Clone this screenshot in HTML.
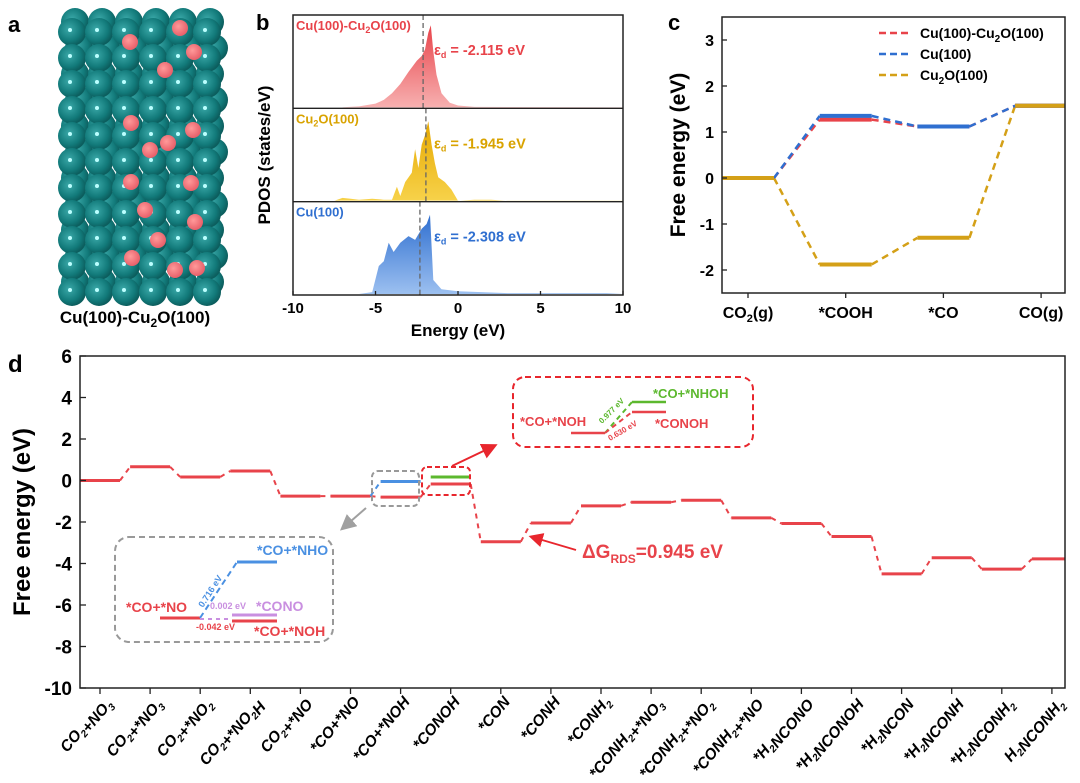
<!DOCTYPE html>
<html><head><meta charset="utf-8"><style>
body{margin:0;background:#fff;}
svg{display:block;font-family:"Liberation Sans",Arial,sans-serif;font-weight:bold;}
</style></head><body>
<svg id="fig" width="1080" height="783" viewBox="0 0 1080 783" xmlns="http://www.w3.org/2000/svg">
<defs>
<linearGradient id="gR" x1="0" y1="0" x2="0" y2="1"><stop offset="0" stop-color="#e8434a"/><stop offset="1" stop-color="#f7b0b0"/></linearGradient>
<linearGradient id="gY" x1="0" y1="0" x2="0" y2="1"><stop offset="0" stop-color="#e6a800"/><stop offset="1" stop-color="#f7d24a"/></linearGradient>
<linearGradient id="gB" x1="0" y1="0" x2="0" y2="1"><stop offset="0" stop-color="#2f6fd0"/><stop offset="1" stop-color="#9cc0f0"/></linearGradient>
<radialGradient id="atom" cx="0.4" cy="0.4" r="0.6"><stop offset="0" stop-color="#3aa8a8"/><stop offset="0.7" stop-color="#127a7a"/><stop offset="1" stop-color="#0c5e5e"/></radialGradient>
<radialGradient id="oat" cx="0.4" cy="0.4" r="0.6"><stop offset="0" stop-color="#ff9a9a"/><stop offset="1" stop-color="#e8606a"/></radialGradient>
<marker id="arR" markerWidth="8" markerHeight="8" refX="6" refY="4" orient="auto"><path d="M0,0 L8,4 L0,8 z" fill="#e8262d"/></marker>
<marker id="arG" markerWidth="8" markerHeight="8" refX="6" refY="4" orient="auto"><path d="M0,0 L8,4 L0,8 z" fill="#a0a0a0"/></marker>
</defs>

<text x="8" y="32" font-size="22">a</text>
<g id="atoms"></g>
<text x="135" y="323" font-size="17" text-anchor="middle">Cu(100)-Cu<tspan font-size="12" dy="4">2</tspan><tspan dy="-4">O(100)</tspan></text>

<text x="256" y="30" font-size="22">b</text>
<g id="pdos"></g>

<text x="668" y="30" font-size="22">c</text>
<g id="chc"></g>

<text x="8" y="372" font-size="24">d</text>
<g id="chd"></g>
</svg>
<script>
const NS="http://www.w3.org/2000/svg";
function mk(parent,tag,attrs,txt){const e=document.createElementNS(NS,tag);for(const k in attrs)e.setAttribute(k,attrs[k]);if(txt!==undefined)e.textContent=txt;parent.appendChild(e);return e;}

const pdosEnergyRed=[-7,-6,-5,-4.5,-4,-3.5,-3,-2.5,-2.2,-2,-1.8,-1.65,-1.5,-1.3,-1,-0.5,0,1,10];
const pdosValRed=[0,0.01,0.04,0.08,0.15,0.25,0.38,0.5,0.55,0.62,0.8,0.88,0.6,0.35,0.15,0.05,0.02,0.005,0];
const pdosEnergyYel=[-7.5,-7,-6.5,-6,-5.2,-4.5,-4,-3.7,-3.5,-3.2,-2.8,-2.6,-2.4,-2.2,-2,-1.8,-1.6,-1.4,-1.2,-0.8,-0.4,0,1,2,3,10];
const pdosValYel=[0,0.03,0.02,0.01,0.02,0.01,0.01,0.15,0.05,0.2,0.3,0.55,0.35,0.6,0.7,0.85,0.6,0.4,0.25,0.2,0.12,0,0.01,0.01,0,0];
const pdosEnergyBlue=[-6,-5.2,-4.8,-4.5,-4.2,-3.9,-3.5,-3,-2.6,-2.2,-1.9,-1.7,-1.5,-1,0,3,9,10];
const pdosValBlue=[0,0.02,0.3,0.35,0.55,0.45,0.55,0.62,0.58,0.7,0.75,0.85,0.15,0.05,0.03,0.01,0.01,0];
const dCenters=[-2.115,-1.945,-2.308];
const pdosTicks=[-10,-5,0,5,10];
(function(){
 const g=document.getElementById('pdos');
 const L=293,R=623,T=15,B=295,ph=(B-T)/3;
 const xs=e=>L+(e+10)/20*(R-L);
 const sets=[[pdosEnergyRed,pdosValRed,'url(#gR)','#e8434a','Cu(100)-Cu<tspan font-size="9" dy="3">2</tspan><tspan dy="-3">O(100)</tspan>','-2.115 eV'],
  [pdosEnergyYel,pdosValYel,'url(#gY)','#d9a300','Cu<tspan font-size="9" dy="3">2</tspan><tspan dy="-3">O(100)</tspan>','-1.945 eV'],
  [pdosEnergyBlue,pdosValBlue,'url(#gB)','#2f6fd0','Cu(100)','-2.308 eV']];
 sets.forEach((s,i)=>{
  const base=T+ph*(i+1)-1;
  let d='M'+xs(s[0][0])+','+base;
  s[0].forEach((e,j)=>{d+=' L'+xs(e).toFixed(1)+','+(base-s[1][j]*ph).toFixed(1);});
  d+=' L'+xs(s[0][s[0].length-1])+','+base+' Z';
  const p=mk(g,'path',{d:d,fill:s[2]});
  
  
  const x0=xs(dCenters[i]);
  const l=mk(g,'line',{x1:x0,x2:x0,y1:T+ph*i,y2:T+ph*(i+1),stroke:'#666','stroke-width':1.3,'stroke-dasharray':'5,3'});
  
  
  const lab=mk(g,'text',{x:296,y:T+ph*i+15,'font-size':13,fill:s[3]});
  lab.innerHTML=s[4];
  
  
  const ed=mk(g,'text',{x:434,y:T+ph*i+40,'font-size':14.5,fill:s[3]});
  ed.innerHTML='ε<tspan font-size="9" dy="3">d</tspan><tspan dy="-3"> = '+s[5]+'</tspan>';
  
  
  if(i>0){const dv=mk(g,'line',{x1:L,x2:R,y1:T+ph*i,y2:T+ph*i,stroke:'#222','stroke-width':1.3});
   
   }
 });
 const fr=mk(g,'rect',{x:L,y:T,width:R-L,height:B-T,fill:'none',stroke:'#222','stroke-width':1.5});
 
 
 pdosTicks.forEach(t=>{
  const tk=mk(g,'line',{x1:xs(t),x2:xs(t),y1:B,y2:B-4,stroke:'#222','stroke-width':1.3});
  
  
  const tl=mk(g,'text',{x:xs(t),y:B+18,'font-size':15,'text-anchor':'middle'},String(t));
  
  
 });
 const xt=mk(g,'text',{x:458,y:336,'font-size':17,'text-anchor':'middle'},'Energy (eV)');
 
 
 const yt=mk(g,'text',{x:0,y:0,'font-size':17,'text-anchor':'middle',transform:'translate(270,155) rotate(-90)'},'PDOS (states/eV)');
 
 
})();

const cCategories=['CO<tspan font-size="11" dy="4">2</tspan><tspan dy="-4">(g)</tspan>','*COOH','*CO','CO(g)'];
const cSeriesNames=['Cu(100)-Cu<tspan font-size="10" dy="4">2</tspan><tspan dy="-4">O(100)</tspan>','Cu(100)','Cu<tspan font-size="10" dy="4">2</tspan><tspan dy="-4">O(100)</tspan>'];
const cRed=[0,1.27,1.12,1.57];
const cBlue=[0,1.35,1.12,1.57];
const cYellow=[0,-1.88,-1.3,1.57];
const cTicks=[-2,-1,0,1,2,3];
(function(){
 const g=document.getElementById('chc');
 const L=722,R=1065,T=17,B=293;
 const ys=v=>178-v*46;
 const xs=i=>748+i*97.7;
 const hw=26;
 const series=[[cYellow,'#d4a017'],[cRed,'#e8434a'],[cBlue,'#2f6fd0']];
 series.forEach((s,si)=>{
  const v=s[0];
  for(let i=0;i<v.length;i++){
   let x1=xs(i)-hw,x2=xs(i)+hw;
   if(i===0)x1=L;if(i===v.length-1)x2=R;
   const ln=mk(g,'line',{x1:x1,x2:x2,y1:ys(v[i]),y2:ys(v[i]),stroke:s[1],'stroke-width':4});
   
   
   if(i<v.length-1){
    const c=mk(g,'line',{x1:xs(i)+hw,x2:xs(i+1)-hw,y1:ys(v[i]),y2:ys(v[i+1]),stroke:s[1],'stroke-width':2.5,'stroke-dasharray':'7,5'});
    
    
   }
  }
 });
 // CO2(g) level drawn in gold on top, as in reference
 const g0=mk(g,'line',{x1:L,x2:xs(0)+hw,y1:ys(cYellow[0]),y2:ys(cYellow[0]),stroke:'#d4a017','stroke-width':4});
 
 
 const g3=mk(g,'line',{x1:xs(3)-hw,x2:R,y1:ys(cYellow[3]),y2:ys(cYellow[3]),stroke:'#d4a017','stroke-width':4});
 
 
 const fr=mk(g,'rect',{x:L,y:T,width:R-L,height:B-T,fill:'none',stroke:'#222','stroke-width':1.5});
 
 
 cTicks.forEach(t=>{
  const tk=mk(g,'line',{x1:L,x2:L+5,y1:ys(t),y2:ys(t),stroke:'#222','stroke-width':1.3});
  
  
  const tl=mk(g,'text',{x:L-8,y:ys(t)+6,'font-size':16,'text-anchor':'end'},String(t));
  
  
 });
 cCategories.forEach((c,i)=>{
  const tk=mk(g,'line',{x1:xs(i),x2:xs(i),y1:B,y2:B+5,stroke:'#222','stroke-width':1.3});
  
  
  const tl=mk(g,'text',{x:xs(i),y:B+25,'font-size':16,'text-anchor':'middle'});
  tl.innerHTML=c;
  
  
 });
 const yt=mk(g,'text',{x:0,y:0,'font-size':21,'text-anchor':'middle',transform:'translate(685,155) rotate(-90)'},'Free energy (eV)');
 
 
 const lc=['#e8434a','#2f6fd0','#d4a017'];
 cSeriesNames.forEach((n,i)=>{
  const y=33+i*21;
  const l=mk(g,'line',{x1:879,x2:911,y1:y,y2:y,stroke:lc[i],'stroke-width':2.5,'stroke-dasharray':'7,4'});
  
  
  const t=mk(g,'text',{x:920,y:y+5,'font-size':14});
  t.innerHTML=n;
  
  
 });
})();

const dCategories=['CO2+NO3','CO2+*NO3','CO2+*NO2','CO2+*NO2H','CO2+*NO','*CO+*NO','*CO+*NOH','*CONOH','*CON','*CONH','*CONH2','*CONH2+*NO3','*CONH2+*NO2','*CONH2+*NO','*H2NCONO','*H2NCONOH','*H2NCON','*H2NCONH','*H2NCONH2','H2NCONH2'];
const dMainEnergy=[0,0.66,0.17,0.46,-0.75,-0.75,-0.8,-0.17,-2.95,-2.05,-1.22,-1.05,-0.95,-1.8,-2.07,-2.7,-4.5,-3.72,-4.27,-3.78];
const dBranchNHO=-0.05;
const dBranchNHOH=0.17;
const dTicks=[-10,-8,-6,-4,-2,0,2,4,6];
(function(){
 const g=document.getElementById('chd');
 const L=80,R=1065,T=356,B=688;
 const ys=v=>480.5-v*20.75;
 const xs=i=>100+i*50.1;
 const hw=20;
 const red='#e8434a';
 for(let i=0;i<dMainEnergy.length;i++){
  let x1=xs(i)-hw,x2=xs(i)+hw;
  if(i===0)x1=L;if(i===dMainEnergy.length-1)x2=R;
  const ln=mk(g,'line',{x1:x1,x2:x2,y1:ys(dMainEnergy[i]),y2:ys(dMainEnergy[i]),stroke:red,'stroke-width':3});
  
  
  if(i<dMainEnergy.length-1){
   const c=mk(g,'line',{x1:xs(i)+hw,x2:xs(i+1)-hw,y1:ys(dMainEnergy[i]),y2:ys(dMainEnergy[i+1]),stroke:red,'stroke-width':2,'stroke-dasharray':'5,5'});
   
   
  }
 }
 const bl=mk(g,'line',{x1:xs(6)-hw,x2:xs(6)+hw,y1:ys(dBranchNHO),y2:ys(dBranchNHO),stroke:'#4a90e2','stroke-width':3});
 
 
 const bc=mk(g,'line',{x1:xs(5)+hw,x2:xs(6)-hw,y1:ys(dMainEnergy[5]),y2:ys(dBranchNHO),stroke:'#4a90e2','stroke-width':2,'stroke-dasharray':'5,4'});
 
 
 const gl=mk(g,'line',{x1:xs(7)-hw,x2:xs(7)+hw,y1:ys(dBranchNHOH),y2:ys(dBranchNHOH),stroke:'#5cb82e','stroke-width':3});
 
 
 const fr=mk(g,'rect',{x:L,y:T,width:R-L,height:B-T,fill:'none',stroke:'#222','stroke-width':1.5});
 
 
 dTicks.forEach(t=>{
  const tk=mk(g,'line',{x1:L,x2:L+6,y1:ys(t),y2:ys(t),stroke:'#222','stroke-width':1.3});
  
  
  const tl=mk(g,'text',{x:L-8,y:ys(t)+7,'font-size':19,'text-anchor':'end'},String(t));
  
  
 });
 const yt=mk(g,'text',{x:0,y:0,'font-size':24,'text-anchor':'middle',transform:'translate(30,522) rotate(-90)'},'Free energy (eV)');
 
 
 dCategories.forEach((c,i)=>{
  const tk=mk(g,'line',{x1:xs(i),x2:xs(i),y1:B,y2:B+6,stroke:'#222','stroke-width':1.3});
  
  
  const tl=mk(g,'text',{x:0,y:0,'font-size':15.5,'text-anchor':'end','font-style':'italic',transform:'translate('+(xs(i)+10)+','+(B+14)+') rotate(-50)'});
  let html='';
  for(let k=0;k<c.length;k++){
   const ch=c[k];
   if((ch==='2'||ch==='3')&&k>0&&/[A-Z]/.test(c[k-1])) html+='<tspan font-size="10" dy="4">'+ch+'</tspan><tspan dy="-4"></tspan>';
   else html+=ch;
  }
  tl.innerHTML=html;
  
  
 });
 const gb=mk(g,'rect',{x:372,y:471,width:47,height:35,rx:6,fill:'none',stroke:'#999','stroke-width':2,'stroke-dasharray':'5,3'});
 
 
 const rb=mk(g,'rect',{x:422,y:467,width:48,height:28,rx:5,fill:'none',stroke:'#e8262d','stroke-width':2,'stroke-dasharray':'5,3'});
 
 
 const a1=mk(g,'line',{x1:452,y1:466,x2:494,y2:446,stroke:'#e8262d','stroke-width':2,'marker-end':'url(#arR)'});
 
 
 const a2=mk(g,'line',{x1:366,y1:508,x2:343,y2:528,stroke:'#a0a0a0','stroke-width':2,'marker-end':'url(#arG)'});
 
 
 const ra=mk(g,'line',{x1:576,y1:550,x2:532,y2:537,stroke:'#e8262d','stroke-width':1.8,'marker-end':'url(#arR)'});
 
 
 const rt=mk(g,'text',{x:582,y:558,'font-size':19,fill:'#e8434a'});
 rt.innerHTML='ΔG<tspan font-size="12" dy="5">RDS</tspan><tspan dy="-5">=0.945 eV</tspan>';
 
 
})();

(function(){
 const svg=document.getElementById('fig');
 const g=mk(svg,'g',{});
 
 
 g.innerHTML=`
 <rect x="115" y="537" width="218" height="105" rx="14" fill="none" stroke="#999" stroke-width="2" stroke-dasharray="6,4"/>
 <line x1="160" x2="200" y1="618" y2="618" stroke="#e8434a" stroke-width="3"/>
 <line x1="200" x2="237" y1="618" y2="562" stroke="#4a90e2" stroke-width="2" stroke-dasharray="6,4"/>
 <line x1="237" x2="277" y1="562" y2="562" stroke="#4a90e2" stroke-width="3"/>
 <line x1="200" x2="232" y1="619" y2="619" stroke="#c98fe0" stroke-width="2" stroke-dasharray="4,4"/>
 <line x1="232" x2="277" y1="615" y2="615" stroke="#c98fe0" stroke-width="3"/>
 <line x1="232" x2="277" y1="621" y2="621" stroke="#e8434a" stroke-width="3"/>
 <text x="126" y="612" font-size="14" fill="#e8434a">*CO+*NO</text>
 <text x="257" y="555" font-size="14" fill="#4a90e2">*CO+*NHO</text>
 <text x="256" y="611" font-size="14" fill="#c98fe0">*CONO</text>
 <text x="254" y="636" font-size="14" fill="#e8434a">*CO+*NOH</text>
 <text x="210" y="609" font-size="9" fill="#c98fe0">0.002 eV</text>
 <text x="196" y="630" font-size="9" fill="#e8434a">-0.042 eV</text>
 <text x="0" y="0" font-size="9" fill="#4a90e2" transform="translate(203,608) rotate(-57)">0.716 eV</text>
 <rect x="513" y="377" width="240" height="70" rx="12" fill="none" stroke="#e8262d" stroke-width="2" stroke-dasharray="6,4"/>
 <line x1="571" x2="605" y1="433" y2="433" stroke="#e8434a" stroke-width="2.5"/>
 <line x1="605" x2="632" y1="433" y2="402" stroke="#5cb82e" stroke-width="2" stroke-dasharray="5,4"/>
 <line x1="605" x2="632" y1="433" y2="412" stroke="#e8434a" stroke-width="2" stroke-dasharray="5,4"/>
 <line x1="632" x2="666" y1="402" y2="402" stroke="#5cb82e" stroke-width="2.5"/>
 <line x1="632" x2="666" y1="412" y2="412" stroke="#e8434a" stroke-width="2.5"/>
 <text x="520" y="426" font-size="13" fill="#e8434a">*CO+*NOH</text>
 <text x="653" y="398" font-size="13" fill="#5cb82e">*CO+*NHOH</text>
 <text x="655" y="428" font-size="13" fill="#e8434a">*CONOH</text>
 <text x="0" y="0" font-size="8" fill="#5cb82e" transform="translate(602,424) rotate(-45)">0.977 eV</text>
 <text x="0" y="0" font-size="8" fill="#e8434a" transform="translate(610,441) rotate(-30)">0.630 eV</text>`;
})();
(function(){
 const g=document.getElementById('atoms');
 let h='';
 for(let r=0;r<11;r++)for(let c=0;c<6;c++){
  h+=`<circle cx="${75+c*27+ (r%2?4:0)}" cy="${22+r*26}" r="14" fill="url(#atom)"/>`;
 }
 for(let r=0;r<11;r++)for(let c=0;c<6;c++){
  h+=`<circle cx="${72+c*27}" cy="${32+r*26}" r="14" fill="url(#atom)"/><circle cx="${70+c*27}" cy="${30+r*26}" r="2" fill="#bff"/>`;
 }
 const ox=[[130,42],[180,28],[194,52],[165,70],[131,123],[193,130],[168,143],[131,182],[191,183],[145,210],[195,222],[158,240],[132,258],[197,268],[150,150],[175,270]];
 ox.forEach(p=>{h+=`<circle cx="${p[0]}" cy="${p[1]}" r="8" fill="url(#oat)"/>`;});
 g.innerHTML=h;
})();
</script>
</body></html>
